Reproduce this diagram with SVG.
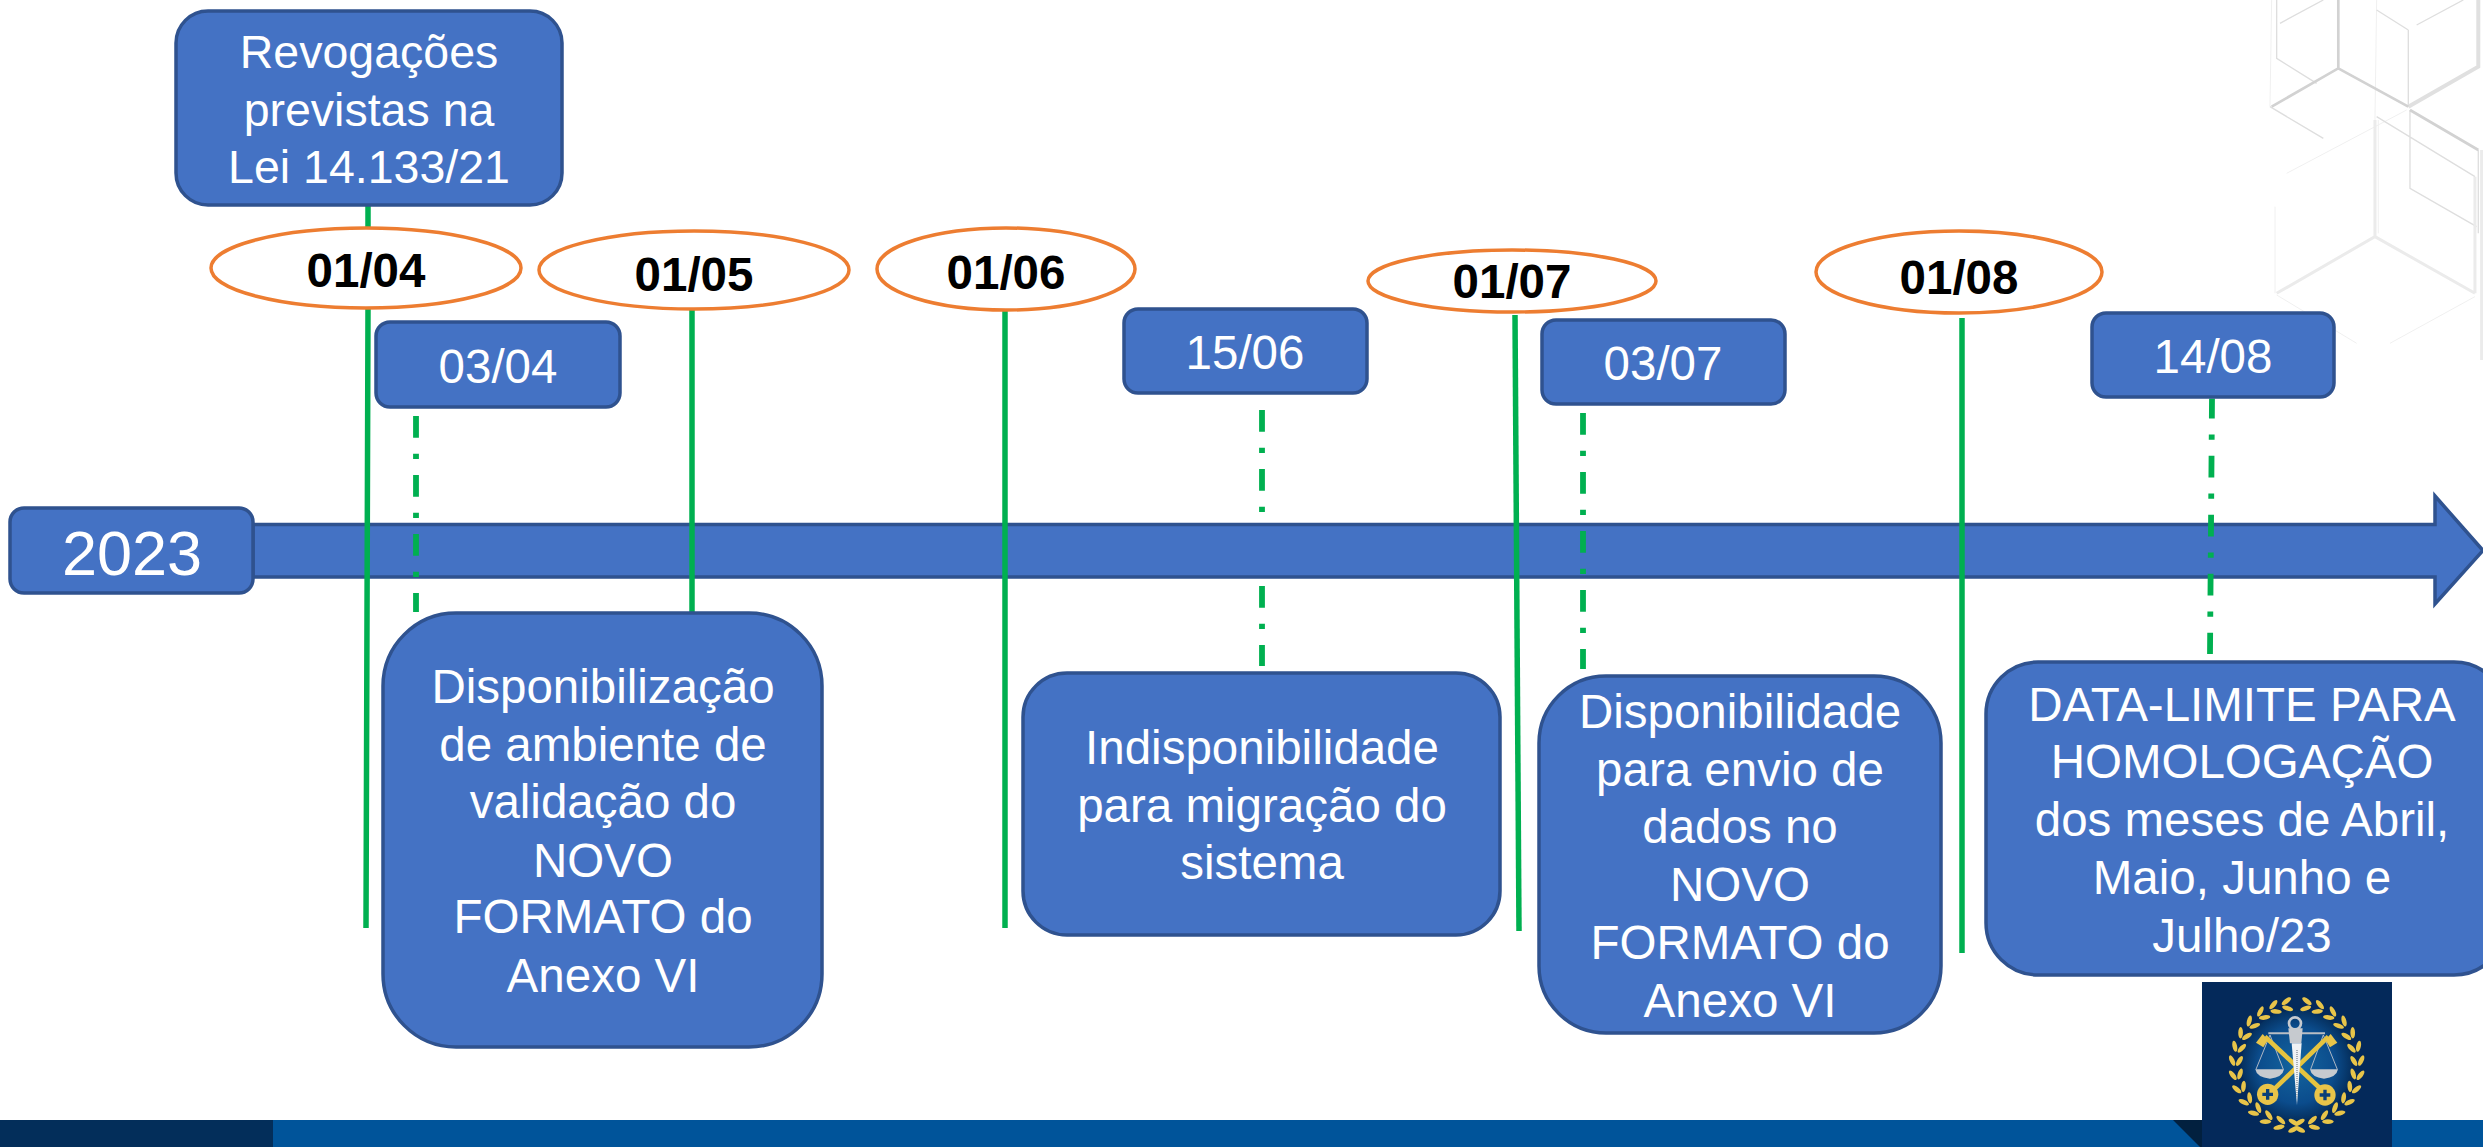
<svg xmlns="http://www.w3.org/2000/svg" width="2483" height="1147" viewBox="0 0 2483 1147">
<style>
text{font-family:"Liberation Sans",Arial,sans-serif;text-anchor:middle}
.box{fill:#4472C4;stroke:#2F528F;stroke-width:3.5}
.t{fill:#fff;font-size:47.500px}
.date{fill:#000;font-size:47.500px;font-weight:bold}
.oval{fill:#fff;stroke:#ED7D31;stroke-width:3.5}
.solid{stroke:#00B050;stroke-width:5.5;fill:none}
.dash{stroke:#00B050;stroke-width:5.8;fill:none;stroke-dasharray:21.7 16 5.3 16}
.c1{stroke:#d2d2d2;stroke-width:8;fill:none}
.c1b{stroke:#e0e0e0;stroke-width:12;fill:none}
.c2{stroke:#dedede;stroke-width:4;fill:none}
.c3{stroke:#ebebeb;stroke-width:9;fill:none}
.c4{stroke:#f0f0f0;stroke-width:3;fill:none}
.gold{fill:#e8c449}
.silver{fill:#c6cacf}
</style>
<defs>
<radialGradient id="seal" cx="50%" cy="50%" r="50%"><stop offset="0" stop-color="#14659f"/><stop offset=".7" stop-color="#0b4c8c"/><stop offset="1" stop-color="#05305f"/></radialGradient>
<g id="lr"><ellipse cx="-3" cy="-194" rx="17" ry="7" transform="rotate(28 -3 -194)" class="gold"/><ellipse cx="-3" cy="-172" rx="17" ry="7" transform="rotate(-28 -3 -172)" class="gold"/></g>
<g id="ll"><ellipse cx="3" cy="-194" rx="17" ry="7" transform="rotate(-28 3 -194)" class="gold"/><ellipse cx="3" cy="-172" rx="17" ry="7" transform="rotate(28 3 -172)" class="gold"/></g>
<path id="hole" d="M-5 -16H5V-5H16V5H5V16H-5V5H-16V-5H-5Z" fill="#0a3f78"/>
</defs>
<rect width="2483" height="1147" fill="#fff"/>
<g id="cube-background" transform="translate(2150 0) scale(.3333)">
<path class="c4" d="M365 0L360 320M680 0L675 360M410 520L770 330M375 620V880M380 885L620 1030M975 890L720 1030M685 360V700"/>
<path class="c2" d="M380 0V175L500 250M775 90V320M680 30L775 90M780 330V565L980 680M985 450V700M800 75L940 0M390 70L520 0M360 320L520 415M680 350L975 530"/>
<path class="c3" d="M675 360V710L380 880M675 710L975 880M975 530V880M995 450V1080"/>
<path class="c1b" d="M775 320L985 200V0"/>
<path class="c1" d="M565 0V205L365 320M565 205L775 320M780 330L985 450"/>
</g>
<g id="footer">
<rect x="0" y="1120" width="2483" height="27" fill="#00549A"/>
<rect x="0" y="1120" width="273" height="27" fill="#032E5A"/>
<path d="M2173 1120H2202V1147H2200Z" fill="#02203f"/>
</g>
<g id="seal-logo">
<rect x="2202" y="982" width="190" height="165" fill="#04295A"/>
<g transform="translate(2220 990) scale(.3333)">
<circle cx="230" cy="225" r="165" fill="url(#seal)"/>
<path d="M145 130H315" stroke="#b9bec4" stroke-width="6"/>
<path d="M150 135L108 238M150 135L190 238M310 135L272 238M310 135L352 238" stroke="#aeb7c4" stroke-width="3" fill="none"/>
<path class="silver" d="M106 238H192Q188 262 150 266Q110 262 106 238ZM270 238H354Q350 262 312 266Q274 262 270 238Z"/>
<path d="M135 140L300 295M325 140L165 295" stroke="#e5c33f" stroke-width="14"/>
<circle cx="143" cy="313" r="32" class="gold"/>
<circle cx="315" cy="315" r="32" class="gold"/>
<use href="#hole" x="143" y="313"/>
<use href="#hole" x="315" y="315"/>
<path class="gold" d="M128 132L144 150L130 172L108 158Z"/>
<path class="gold" d="M332 132L316 150L330 172L352 158Z"/>
<circle cx="225" cy="100" r="18" fill="none" stroke="#c6cacf" stroke-width="8"/>
<path class="silver" d="M205 115H248L244 160H210Z"/>
<path d="M215 160H245L231 345Z" fill="#f0f2f4"/>
<path d="M231 180V320" stroke="#9aa2ab" stroke-width="5" stroke-dasharray="3 3"/>
<g transform="translate(230 225)">
<use href="#lr" transform="rotate(178)"/><use href="#lr" transform="rotate(165)"/><use href="#lr" transform="rotate(152)"/><use href="#lr" transform="rotate(139)"/><use href="#lr" transform="rotate(126)"/><use href="#lr" transform="rotate(113)"/><use href="#lr" transform="rotate(100)"/><use href="#lr" transform="rotate(87)"/><use href="#lr" transform="rotate(74)"/><use href="#lr" transform="rotate(61)"/><use href="#lr" transform="rotate(48)"/><use href="#lr" transform="rotate(35)"/><use href="#lr" transform="rotate(22)"/><use href="#lr" transform="rotate(10)"/>
<use href="#ll" transform="rotate(-178)"/><use href="#ll" transform="rotate(-165)"/><use href="#ll" transform="rotate(-152)"/><use href="#ll" transform="rotate(-139)"/><use href="#ll" transform="rotate(-126)"/><use href="#ll" transform="rotate(-113)"/><use href="#ll" transform="rotate(-100)"/><use href="#ll" transform="rotate(-87)"/><use href="#ll" transform="rotate(-74)"/><use href="#ll" transform="rotate(-61)"/><use href="#ll" transform="rotate(-48)"/><use href="#ll" transform="rotate(-35)"/><use href="#ll" transform="rotate(-22)"/><use href="#ll" transform="rotate(-10)"/>
</g>
</g>
</g>
<g id="timeline-arrow">
<path class="box" d="M253 524.500H2435V496L2483 550.500L2435 604V577H253Z"/>
</g>
<g id="connectors">
<path class="solid" d="M368 204V230M368 308L366 928"/>
<path class="solid" d="M692 310V614"/>
<path class="solid" d="M1005 310V928"/>
<path class="solid" d="M1515 315L1519 931"/>
<path class="solid" d="M1962 318V953"/>
<path class="dash" d="M416 416V612"/>
<path class="dash" d="M1262 410V515"/>
<path class="dash" d="M1262 586V666"/>
<path class="dash" d="M1583 413V669"/>
<path class="dash" d="M2212 398.500L2210 654" style="stroke-dasharray:20 16 5.300 16 21.700 16 5.300 16 21.700 16 5.300 16 21.700 16 5.300 16 21.700 16"/>
</g>
<g id="node-2023"><rect class="box" x="10" y="508" width="243" height="85" rx="14"/><text class="t" style="font-size:63px" x="132" y="575">2023</text></g>
<g id="node-revogacoes"><rect class="box" x="176" y="11" width="386" height="194" rx="32"/><text class="t" style="font-size:46.500px"><tspan x="369" y="68">Revogações</tspan><tspan x="369" y="126">previstas na</tspan><tspan x="369" y="183">Lei 14.133/21</tspan></text></g>
<g id="date-0104"><ellipse class="oval" cx="366" cy="268" rx="155" ry="40"/><text class="date" x="366" y="287">01/04</text></g>
<g id="date-0105"><ellipse class="oval" cx="694" cy="270" rx="155" ry="39"/><text class="date" x="694" y="291">01/05</text></g>
<g id="date-0106"><ellipse class="oval" cx="1006" cy="269" rx="129" ry="41"/><text class="date" x="1006" y="289">01/06</text></g>
<g id="date-0107"><ellipse class="oval" cx="1512" cy="281" rx="144" ry="31"/><text class="date" x="1512" y="298">01/07</text></g>
<g id="date-0108"><ellipse class="oval" cx="1959" cy="272" rx="143" ry="41"/><text class="date" x="1959" y="294">01/08</text></g>
<g id="node-0304"><rect class="box" x="376" y="322" width="244" height="85" rx="14"/><text class="t" x="498" y="383">03/04</text></g>
<g id="node-1506"><rect class="box" x="1124" y="309" width="243" height="84" rx="14"/><text class="t" x="1245" y="369">15/06</text></g>
<g id="node-0307"><rect class="box" x="1542" y="320" width="243" height="84" rx="14"/><text class="t" x="1663" y="380">03/07</text></g>
<g id="node-1408"><rect class="box" x="2092" y="313" width="242" height="84" rx="14"/><text class="t" x="2213" y="373">14/08</text></g>
<g id="node-ambiente"><rect class="box" x="383" y="613" width="439" height="434" rx="73"/><text class="t"><tspan x="603" y="703">Disponibilização</tspan><tspan x="603" y="761">de ambiente de</tspan><tspan x="603" y="818">validação do</tspan><tspan x="603" y="877">NOVO</tspan><tspan x="603" y="933">FORMATO do</tspan><tspan x="603" y="992">Anexo VI</tspan></text></g>
<g id="node-indisponibilidade"><rect class="box" x="1023" y="673" width="477" height="262" rx="44"/><text class="t"><tspan x="1262" y="764">Indisponibilidade</tspan><tspan x="1262" y="822">para migração do</tspan><tspan x="1262" y="879">sistema</tspan></text></g>
<g id="node-disponibilidade"><rect class="box" x="1539" y="676" width="402" height="357" rx="67"/><text class="t"><tspan x="1740" y="728">Disponibilidade</tspan><tspan x="1740" y="786">para envio de</tspan><tspan x="1740" y="843">dados no</tspan><tspan x="1740" y="901">NOVO</tspan><tspan x="1740" y="959">FORMATO do</tspan><tspan x="1740" y="1017">Anexo VI</tspan></text></g>
<g id="node-data-limite"><rect class="box" x="1986" y="662" width="520" height="313" rx="52"/><text class="t"><tspan x="2242" y="721">DATA-LIMITE PARA</tspan><tspan x="2242" y="778">HOMOLOGAÇÃO</tspan><tspan x="2242" y="836">dos meses de Abril,</tspan><tspan x="2242" y="894">Maio, Junho e</tspan><tspan x="2242" y="952">Julho/23</tspan></text></g>
</svg>
